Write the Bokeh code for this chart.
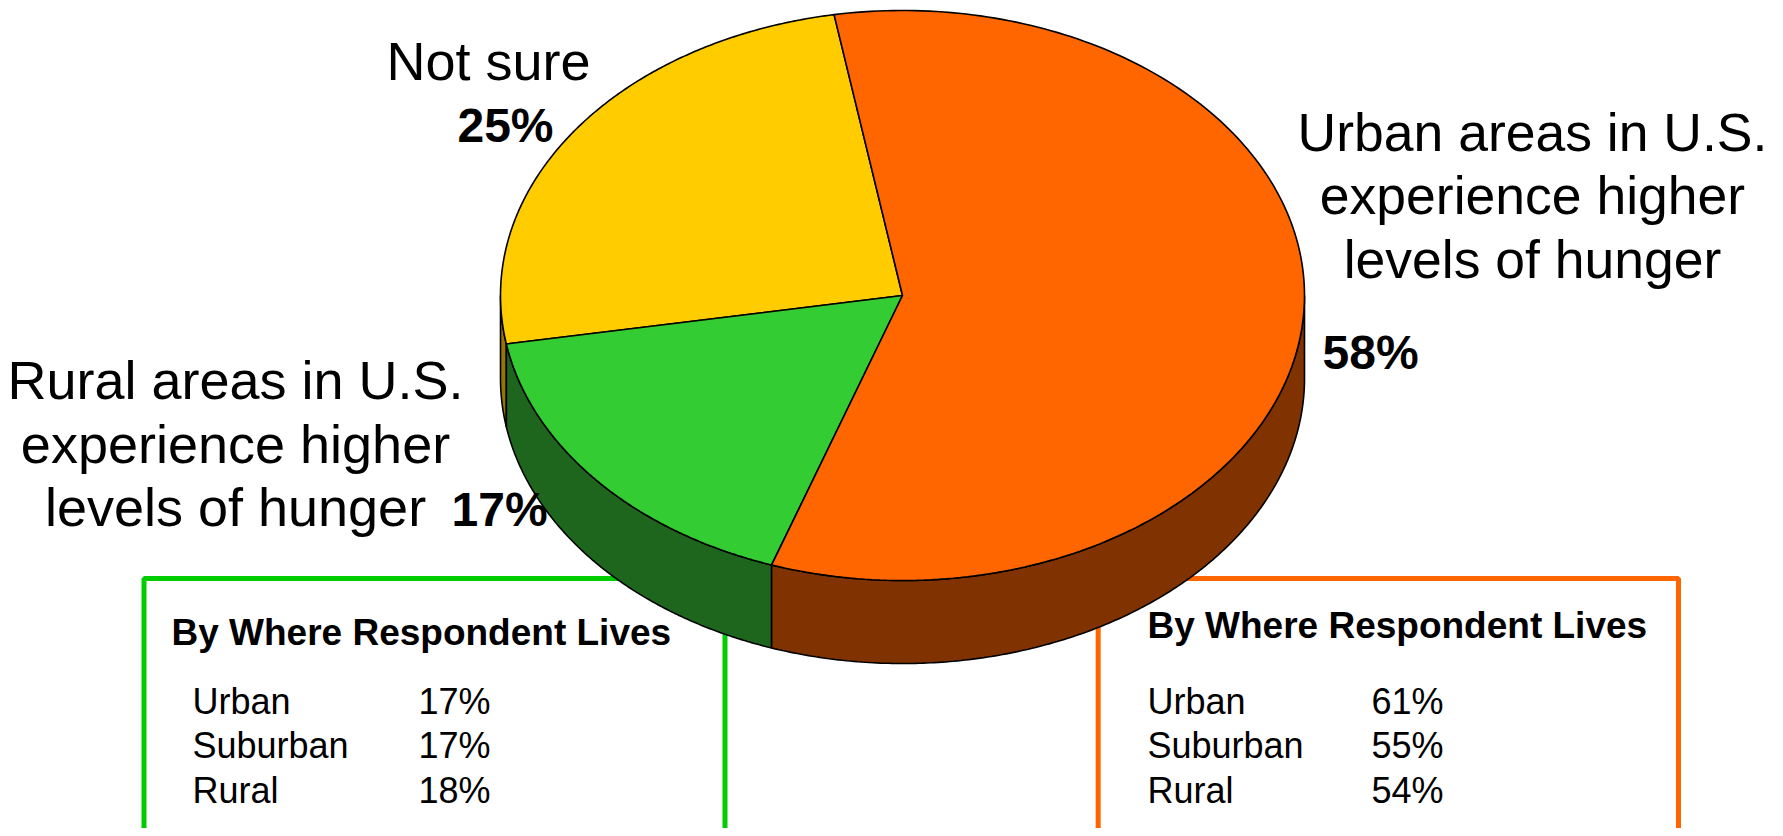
import numpy as np
from bokeh.plotting import figure
from bokeh.models import Range1d
from bokeh.core.properties import value
from bokeh.embed import file_html
from bokeh.resources import INLINE

# ---- data ----
pie_labels = ["Not sure",
              "Rural areas in U.S.|experience higher|levels of hunger",
              "Urban areas in U.S.|experience higher|levels of hunger"]
pie_values = [25, 17, 58]
top_colors = ["#FFCC00", "#33CC33", "#FF6600"]
side_colors = ["#957500", "#1E661E", "#803300"]
box_rows = ["Urban", "Suburban", "Rural"]
rural_box_values = ["17%", "17%", "18%"]
urban_box_values = ["61%", "55%", "54%"]
box_title = "By Where Respondent Lives"

FONT = value("Liberation Sans")

W, H = 1775, 828
p = figure(width=W, height=H, output_backend="svg", toolbar_location=None,
           x_range=Range1d(0, W), y_range=Range1d(H, 0),
           x_axis_type=None, y_axis_type=None, min_border=0,
           outline_line_color=None)
p.xgrid.visible = False
p.ygrid.visible = False
p.background_fill_color = "white"
p.border_fill_color = "white"

# ---- boxes (behind the pie) ----
p.quad(left=[143.5], right=[724.5], top=[578], bottom=[900],
       fill_color=None, line_color="#00CC00", line_width=5)
p.quad(left=[1097.7], right=[1678], top=[578], bottom=[900],
       fill_color=None, line_color="#FF6600", line_width=5)

# ---- 3D pie ----
cx, cy, rx, ry, depth = 902, 295, 402, 285, 83
start = 99.8
total = float(sum(pie_values))
angles = [start]
for v in pie_values:
    angles.append(angles[-1] + 360.0 * v / total)

def pt(t, dz=0.0):
    r = np.radians(t)
    return cx + rx * np.cos(r), cy - ry * np.sin(r) + dz

side_xs, side_ys, side_cols = [], [], []
top_xs, top_ys = [], []
for i in range(len(pie_values)):
    a1, a2 = angles[i], angles[i + 1]
    ts = np.linspace(a1, a2, 200)
    xs, ys = pt(ts)
    top_xs.append([cx] + list(xs))
    top_ys.append([cy] + list(ys))
    for off in (0, 360):
        lo = max(a1, 180 + off)
        hi = min(a2, 360 + off)
        if hi > lo:
            tt = np.linspace(lo, hi, 200)
            ux, uy = pt(tt)
            bx, by = pt(tt[::-1], depth)
            side_xs.append(list(ux) + list(bx))
            side_ys.append(list(uy) + list(by))
            side_cols.append(side_colors[i])

p.patches(side_xs, side_ys, fill_color=side_cols, line_color="black", line_width=1.6)
p.patches(top_xs, top_ys, fill_color=top_colors, line_color="black", line_width=1.6)

# ---- labels ----
def txt(x, yb, s, size, bold=False, align="left"):
    p.text(x=[x], y=[yb - 0.34 * size], text=[s], text_font=FONT,
           text_font_size=f"{size}px",
           text_font_style="bold" if bold else "normal", text_align=align,
           text_baseline="alphabetic", text_color="black")

pct = [f"{v}%" for v in pie_values]
LBL, PCT = 54, 48

txt(488, 79, pie_labels[0], LBL, align="center")
txt(505, 141, pct[0], PCT, bold=True, align="center")

for k, line in enumerate(pie_labels[1].split("|")):
    txt(235, 398 + k * 63.5, line, LBL, align="center")
txt(451, 525, pct[1], PCT, bold=True)

for k, line in enumerate(pie_labels[2].split("|")):
    txt(1532, 150 + k * 63.5, line, 53.5, align="center")
txt(1322, 368, pct[2], PCT, bold=True)

# ---- box contents ----
txt(171, 645, box_title, 37, bold=True)
txt(1147, 638, box_title, 37, bold=True)
for k, row in enumerate(box_rows):
    yb = 713 + k * 44.5
    txt(192, yb, row, 36)
    txt(418, yb, rural_box_values[k], 36)
    txt(1147, yb, row, 36)
    txt(1371, yb, urban_box_values[k], 36)

open("out.html", "w").write(file_html(p, INLINE))
